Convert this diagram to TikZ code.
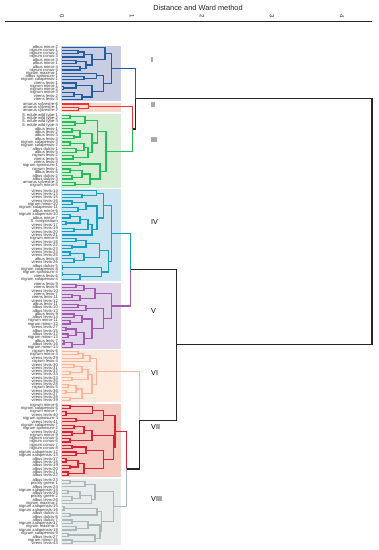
\documentclass[tikz,border=0pt]{standalone}
\usepackage{fontspec}
\setmainfont{Liberation Sans}
\usetikzlibrary{calc}
\definecolor{cI}{RGB}{32,94,160}
\definecolor{cII}{RGB}{250,50,50}
\definecolor{cIII}{RGB}{34,190,90}
\definecolor{cIV}{RGB}{20,160,195}
\definecolor{cV}{RGB}{160,90,175}
\definecolor{cVI}{RGB}{252,180,155}
\definecolor{cVII}{RGB}{215,35,55}
\definecolor{cVIII}{RGB}{170,185,188}
\definecolor{bI}{RGB}{200,205,228}
\definecolor{bII}{RGB}{252,217,204}
\definecolor{bIII}{RGB}{213,237,211}
\definecolor{bIV}{RGB}{204,229,240}
\definecolor{bV}{RGB}{225,211,233}
\definecolor{bVI}{RGB}{254,233,221}
\definecolor{bVII}{RGB}{246,201,193}
\definecolor{bVIII}{RGB}{232,237,236}
\tikzset{
  lI/.style={color=cI,line width=1.2pt},
  lII/.style={color=cII,line width=1.2pt},
  lIII/.style={color=cIII,line width=1.2pt},
  lIV/.style={color=cIV,line width=1.2pt},
  lV/.style={color=cV,line width=1.2pt},
  lVI/.style={color=cVI,line width=1.2pt},
  lVII/.style={color=cVII,line width=1.2pt},
  lVIII/.style={color=cVIII,line width=1.2pt},
  lk/.style={color=black!85,line width=1.1pt},
  lbl/.style={anchor=east,inner sep=0pt,text=black!80,font=\fontsize{4.1}{4.2}\selectfont},
  rn/.style={anchor=west,inner sep=0pt,text=black,font=\fontsize{7.2}{8}\selectfont},
  tick/.style={inner sep=0pt,rotate=-90,text=black!85,font=\fontsize{6}{6}\selectfont}
}
\newcommand\leafset[5]{%
  \foreach[count=\i] \leafname in {#5}{%
    \coordinate (#1\i) at (62,{#2+(\i-0.5)*(#3-#2)/#4});
    \node[lbl] (t#1\i) at (58,{#2+(\i-0.5)*(#3-#2)/#4}) {\leafname};
  }}
\newcommand\mrg[4]{%
  \path let \p1=(#2),\p2=(#3) in (#4pt,{0.5*(\y1+\y2)}) coordinate (#1);
  \draw (#2) -| (#1) |- (#3);}
\newcommand\mrgc[6]{%
  \path let \p1=(#2),\p2=(#3) in (#4pt,{0.5*(\y1+\y2)}) coordinate (#1);
  \draw[#5] (#2) -| (#1);
  \draw[#6] (#1) |- (#3);}
\begin{document}
\begin{tikzpicture}[x=1pt,y=-1pt]
\fill[white] (0,0) rectangle (379,550);
\useasboundingbox (0,0) rectangle (379,550);
% title and axis
\node[font=\fontsize{7.4}{8}\selectfont,text=black!85,inner sep=0pt] (title) at (198,8) {Distance and Ward method};
\coordinate (axL) at (5,21);
\coordinate (axR) at (372,21);
\draw[black!85,line width=0.9pt] (axL) -- (axR);
\foreach \k in {0,...,4}{\node[tick] (tk\k) at ({62+70*\k},16) {\k};}
% cluster boxes
\fill[bI] (61,45.5) rectangle (121,101);
\fill[bII] (61,102.5) rectangle (121,112);
\fill[bIII] (61,113.5) rectangle (121,187.5);
\fill[bIV] (61,189) rectangle (121,281);
\fill[bV] (61,282.5) rectangle (121,349);
\fill[bVI] (61,350) rectangle (121,402);
\fill[bVII] (61,403.5) rectangle (121,477);
\fill[bVIII] (61,478.5) rectangle (121,545);
% leaves
\leafset{a}{45.5}{101}{17}{albus minor-2,nigrum conus-1,nigrum conus-2,nigrum conus-3,albus minor-3,albus minor-1,albus minor-4,nigrum conus-4,nigrum maxima-1,albus spinosum-1,nigrum xalapensis-1,virens levis-1,nigrum minor-1,nigrum minor-2,nigrum minor-3,virens levis-2,virens levis-3}
\leafset{b}{102.5}{112}{3}{amarus sylvestre-6,amarus sylvestre-1,amarus sylvestre-2}
\leafset{c}{113.5}{187.5}{22}{S. edule wild type-1,S. edule wild type-2,S. edule wild type-3,S. edule wild type-4,albus levis-1,albus levis-2,albus levis-3,albus levis-4,nigrum xalapensis-3,nigrum xalapensis-2,albus dulcis-1,albus levis-5,nigrum levis-2,virens levis-5,virens levis-4,nigrum spinosum-1,nigrum levis-1,albus levis-6,albus dulcis-2,albus dulcis-3,amarus sylvestre-3,nigrum minor-5}
\leafset{d}{189}{281}{27}{virens levis-14,virens levis-13,virens levis-15,virens levis-16,nigrum minor-10,nigrum xalapensis-11,albus minor-6,nigrum xalapensis-10,albus minor-7,S. compositum,virens levis-17,virens levis-19,virens levis-20,virens levis-21,nigrum minor-8,virens levis-18,virens levis-22,virens levis-23,virens levis-24,virens levis-25,albus levis-8,virens levis-26,albus dulcis-5,nigrum xalapensis-8,nigrum spinosum-4,virens levis-6,nigrum xalapensis-4}
\leafset{e}{282.5}{349}{20}{virens levis-9,virens levis-8,virens levis-10,virens levis-7,virens levis-11,virens levis-12,albus levis-11,albus levis-10,albus levis-13,albus levis-9,albus levis-14,nigrum minor-11,nigrum minor-12,virens levis-27,albus levis-15,albus levis-12,nigrum minor-13,albus levis-7,albus levis-16,nigrum minor-14}
\leafset{f}{350}{402}{16}{nigrum levis-6,nigrum minor-4,virens levis-29,nigrum levis-4,virens levis-30,virens levis-31,virens levis-32,virens levis-34,virens levis-33,virens levis-35,virens levis-28,nigrum levis-5,virens levis-36,virens levis-37,virens levis-38,virens levis-39}
\leafset{g}{403.5}{477}{22}{nigrum minor-6,nigrum xalapensis-6,nigrum minor-7,virens levis-40,nigrum spinosum-3,virens levis-41,nigrum xalapensis-7,nigrum spinosum-2,virens levis-42,nigrum minor-9,nigrum conus-5,nigrum conus-6,nigrum conus-7,nigrum conus-8,nigrum xalapensis-12,nigrum xalapensis-13,albus levis-17,albus levis-18,albus levis-19,albus levis-20,albus levis-21,albus levis-22}
\leafset{h}{478.5}{545}{20}{albus levis-23,prickly green-1,albus levis-24,nigrum xalapensis-14,albus levis-25,prickly green-2,albus levis-26,nigrum maxima-2,nigrum xalapensis-15,nigrum xalapensis-16,albus dulcis-4,albus dulcis-6,albus dulcis-7,nigrum xalapensis-17,nigrum maxima-3,nigrum xalapensis-18,nigrum xalapensis-9,albus levis-27,nigrum minor-15,virens levis-43}
% cluster I
\begin{scope}[lI]
\mrg{aA1}{a2}{a3}{78}
\mrg{aA2}{aA1}{a4}{84}
\mrg{aA3}{a5}{a6}{76}
\mrg{aA4}{a7}{a8}{80}
\mrg{aA5}{aA3}{aA4}{86}
\mrg{aA6}{aA2}{aA5}{92}
\mrg{aA7}{a1}{aA6}{105}
\mrg{aB1}{a10}{a11}{84}
\mrg{aB2}{a9}{aB1}{96.7}
\mrg{aB4}{a13}{a14}{63.5}
\mrg{aB5}{a12}{aB4}{76}
\mrg{aB6}{a15}{a16}{74}
\mrg{aB7}{aB6}{a17}{82}
\mrg{aB8}{aB5}{aB7}{92}
\mrg{aB9}{aB2}{aB8}{103.3}
\mrg{aR}{aA7}{aB9}{111.7}
\end{scope}
% cluster II
\begin{scope}[lII]
\mrg{bA}{b2}{b3}{78.3}
\mrg{bR}{b1}{bA}{88.3}
\end{scope}
% cluster III
\begin{scope}[lIII]
\mrg{cA1}{c1}{c2}{70}
\mrg{cA2}{c3}{c4}{75}
\mrg{cU1}{cA1}{cA2}{85}
\mrg{cA3}{c5}{c6}{72}
\mrg{cA4}{c7}{c8}{74}
\mrg{cP1}{cA3}{cA4}{80}
\mrg{cA5}{c9}{c10}{70}
\mrg{cA6}{c11}{c12}{76}
\mrg{cP2}{cA5}{cA6}{84}
\mrg{cA7}{c13}{c14}{73}
\mrg{cP3}{cP2}{cA7}{88}
\mrg{cU2}{cP1}{cP3}{92}
\mrg{cU}{cU1}{cU2}{97.3}
\mrg{cL1}{c15}{c16}{80}
\mrg{cA8}{c17}{c18}{70}
\mrg{cA9}{c19}{c20}{72}
\mrg{cQ1}{cA8}{cA9}{82}
\mrg{cA10}{c21}{c22}{75}
\mrg{cQ2}{cQ1}{cA10}{90}
\mrg{cL}{cL1}{cQ2}{100}
\mrg{cR}{cU}{cL}{106}
\end{scope}
% cluster IV
\begin{scope}[lIV]
\mrg{dA1}{d2}{d3}{82}
\mrg{dU1}{d1}{dA1}{96.7}
\mrg{dA2}{d4}{d5}{72}
\mrg{dA3}{d6}{d7}{78}
\mrg{dV1}{dA2}{dA3}{86}
\mrg{dA4}{d8}{d9}{70}
\mrg{dA5}{d10}{d11}{66}
\mrg{dV2}{dA4}{dA5}{80}
\mrg{dA6}{d12}{d13}{74}
\mrg{dV3}{dV2}{dA6}{88}
\mrg{dV4}{dV3}{d14}{92}
\mrg{dU2}{dV1}{dV4}{97}
\mrg{dU}{dU1}{dU2}{103.3}
\mrg{dA7}{d15}{d16}{76}
\mrg{dA8}{d17}{d18}{72}
\mrg{dW1}{dA7}{dA8}{86}
\mrg{dA9}{d19}{d20}{70}
\mrg{dA10}{d21}{d22}{74}
\mrg{dW2}{dA9}{dA10}{84}
\mrg{dLT}{dW1}{dW2}{99.3}
\mrg{dA11}{d23}{d24}{62.7}
\mrg{dA12}{d25}{d26}{62.7}
\mrg{dX2}{dA12}{d27}{80}
\mrg{dLB}{dA11}{dX2}{101.7}
\mrg{dL}{dLT}{dLB}{108.3}
\mrg{dR}{dU}{dL}{111.7}
\end{scope}
% cluster V
\begin{scope}[lV]
\mrg{eA1}{e1}{e2}{76}
\mrg{eY1}{eA1}{e3}{84}
\mrg{eA2}{e4}{e5}{72}
\mrg{eY2}{eA2}{e6}{80}
\mrg{eU}{eY1}{eY2}{95}
\mrg{eA3}{e7}{e8}{78}
\mrg{eZ1}{eA3}{e9}{86}
\mrg{eA4}{e10}{e11}{74}
\mrg{eA5}{e12}{e13}{70}
\mrg{eZ2}{eA4}{eA5}{82}
\mrg{eA6}{e14}{e15}{66}
\mrg{eA7}{e16}{e17}{68}
\mrg{eZ3}{eA6}{eA7}{76}
\mrg{eA8}{e18}{e19}{64}
\mrg{eZ4}{eA8}{e20}{72}
\mrg{eZ5}{eZ3}{eZ4}{84}
\mrg{eZ6}{eZ2}{eZ5}{92}
\mrg{eL}{eZ1}{eZ6}{103.3}
\mrg{eR}{eU}{eL}{111.7}
\end{scope}
% cluster VI
\begin{scope}[lVI]
\mrg{fA1}{f1}{f2}{78}
\mrg{fA2}{fA1}{f3}{83}
\mrg{fU}{fA2}{f4}{90}
\mrg{fA3}{f5}{f6}{74}
\mrg{fA4}{f7}{f8}{70}
\mrg{fB1}{fA3}{fA4}{82}
\mrg{fA5}{f9}{f10}{72}
\mrg{fB2}{fB1}{fA5}{88}
\mrg{fA6}{f11}{f12}{68}
\mrg{fA7}{f13}{f14}{66}
\mrg{fB3}{fA6}{fA7}{76}
\mrg{fA8}{f15}{f16}{70}
\mrg{fB4}{fB3}{fA8}{82}
\mrg{fB5}{fB2}{fB4}{92}
\mrg{fR}{fU}{fB5}{96.7}
\end{scope}
% cluster VII
\begin{scope}[lVII]
\mrg{gA1}{g1}{g2}{70}
\mrg{gA2}{g3}{g4}{66}
\mrg{gC1}{gA1}{gA2}{92.7}
\mrg{gA3}{g5}{g6}{76}
\mrg{gC2}{gC1}{gA3}{103.3}
\mrg{gA4}{g7}{g8}{74}
\mrg{gA5}{g9}{g10}{72}
\mrg{gD1}{gA4}{gA5}{84}
\mrg{gA6}{g11}{g12}{70}
\mrg{gD2}{gD1}{gA6}{92}
\mrg{gA7}{g13}{g14}{72}
\mrg{gA8}{g15}{g16}{76}
\mrg{gE1}{gA7}{gA8}{86}
\mrg{gA9}{g17}{g18}{66}
\mrg{gA10}{g19}{g20}{70}
\mrg{gE2}{gA9}{gA10}{78}
\mrg{gA11}{g21}{g22}{68}
\mrg{gE3}{gE2}{gA11}{84}
\mrg{gE4}{gE1}{gE3}{103.3}
\mrg{gL}{gD2}{gE4}{113.3}
\mrg{gR}{gC2}{gL}{115}
\end{scope}
% cluster VIII
\begin{scope}[lVIII]
\mrg{hA1}{h1}{h2}{70}
\mrg{hF1}{hA1}{h3}{85}
\mrg{hA2}{h4}{h5}{68}
\mrg{hA3}{h6}{h7}{72}
\mrg{hF2}{hA2}{hA3}{80}
\mrg{hF3}{hF2}{h8}{91.7}
\mrg{hU}{hF1}{hF3}{95}
\mrg{hA4}{h9}{h10}{64}
\mrg{hA5}{h11}{h12}{70}
\mrg{hG1}{hA4}{hA5}{97}
\mrg{hA6}{h13}{h14}{72}
\mrg{hA7}{h15}{h16}{76}
\mrg{hG2}{hA6}{hA7}{88}
\mrg{hA8}{h17}{h18}{68}
\mrg{hA9}{h19}{h20}{72}
\mrg{hG3}{hA8}{hA9}{95}
\mrg{hG4}{hG2}{hG3}{100}
\mrg{hL}{hG1}{hG4}{101.7}
\mrg{hR}{hU}{hL}{113.3}
\end{scope}
% upper merges
\mrgc{m23}{bR}{cR}{132.7}{lII}{lIII}
\mrgc{m123}{aR}{m23}{135.7}{lI}{lk}
\mrgc{m45}{dR}{eR}{130.7}{lIV}{lV}
\mrgc{m78}{gR}{hR}{126.7}{lVII}{lVIII}
\mrgc{m678}{fR}{m78}{139.3}{lVI}{lk}
\mrgc{m4to8}{m45}{m678}{176.7}{lk}{lk}
\mrgc{root}{m123}{m4to8}{372}{lk}{lk}
% cluster numerals
\node[rn] (rI) at (151,60) {I};
\node[rn] (rII) at (151,105) {II};
\node[rn] (rIII) at (151,140) {III};
\node[rn] (rIV) at (151,222) {IV};
\node[rn] (rV) at (151,311) {V};
\node[rn] (rVI) at (151,373.5) {VI};
\node[rn] (rVII) at (151,427) {VII};
\node[rn] (rVIII) at (151,499.5) {VIII};
\end{tikzpicture}
\end{document}
